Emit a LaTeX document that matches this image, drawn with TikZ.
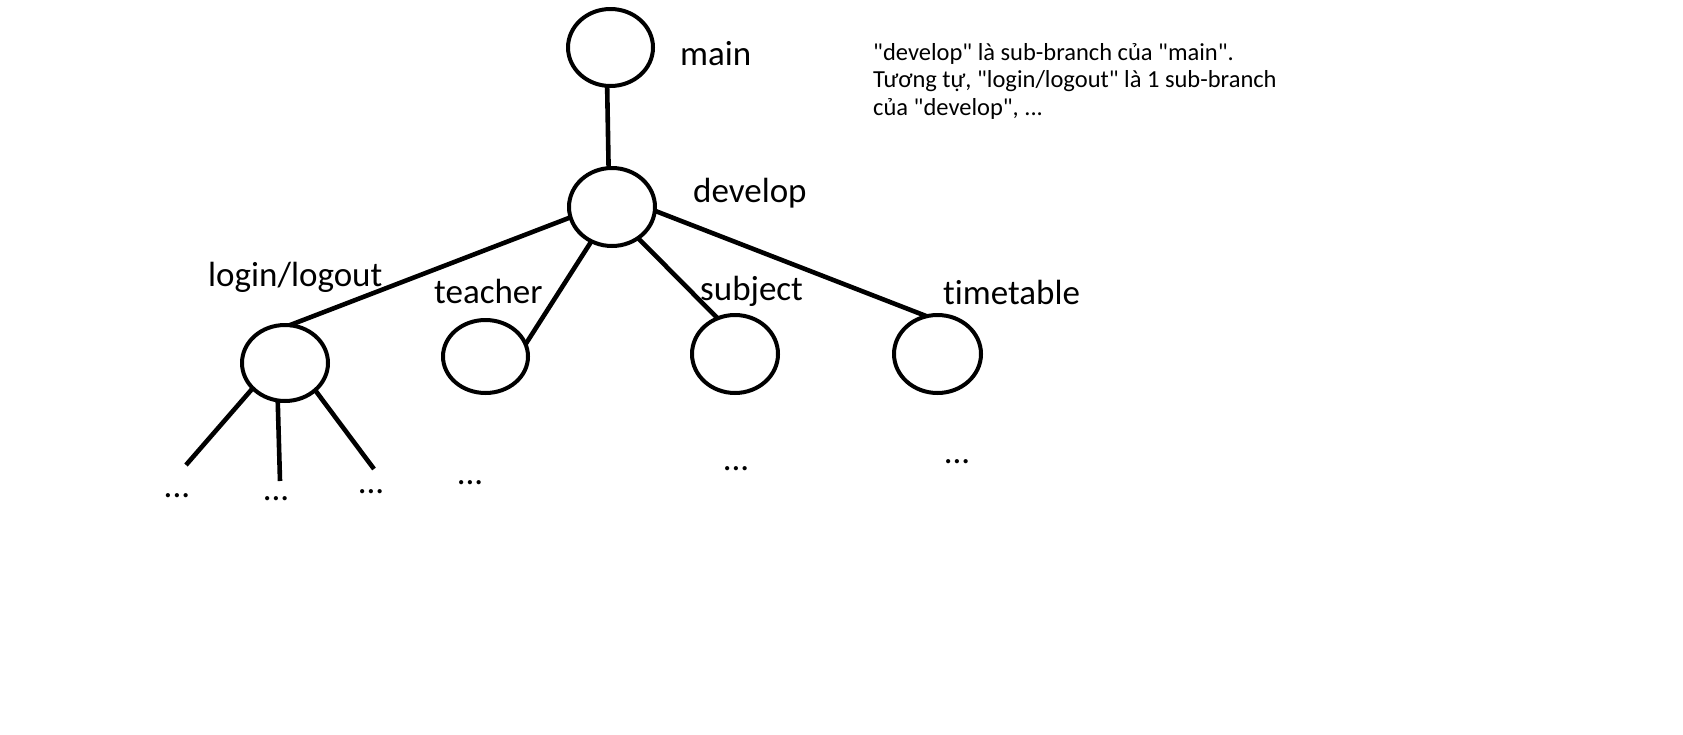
\documentclass[tikz,border=0pt]{standalone}
\usepackage{fontspec}
\newfontfamily\calfont{Carlito}[Ligatures=NoCommon]
\usetikzlibrary{shapes.geometric}
\begin{document}
\begin{tikzpicture}[x=1pt,y=-1pt,
  bub/.style={draw, ellipse, line width=4pt, inner sep=0pt, outer sep=0pt},
  link/.style={line width=4.6pt},
  lbl/.style={anchor=base west, inner sep=0pt, font=\calfont\fontsize{35}{42}\selectfont},
  more/.style={anchor=base, inner sep=0pt, font=\calfont\fontsize{35}{42}\selectfont},
  note/.style={anchor=base west, inner sep=0pt, font=\calfont\fontsize{24.5}{27.5}\selectfont}]
\useasboundingbox[fill=white] (0,0) rectangle (1683,734);
% nodes
\node[bub, minimum width=85, minimum height=77] (main) at (610.5,47.5) {};
\node[bub, minimum width=86, minimum height=78] (develop) at (612,207) {};
\node[bub, minimum width=86, minimum height=76] (login) at (285,363) {};
\node[bub, minimum width=85, minimum height=73] (teacher) at (485.5,356.5) {};
\node[bub, minimum width=86, minimum height=78] (subject) at (735,354) {};
\node[bub, minimum width=87, minimum height=78] (timetable) at (937.5,354) {};
% labels
\node[lbl] (lmain) at (680,65) {main};
\node[lbl] (ldevelop) at (693,202) {develop};
\node[lbl] (llogin) at (208,286) {login/logout};
\node[lbl] (lteacher) at (434,303) {teacher};
\node[lbl] (lsubject) at (700,300) {subject};
\node[lbl] (ltimetable) at (943,304) {timetable};
% leaves
\node[more] (d1) at (177,497) {...};
\node[more] (d2) at (276,500) {...};
\node[more] (d3) at (371,493) {...};
\node[more] (d4) at (470,484) {...};
\node[more] (d5) at (736,470) {...};
\node[more] (d6) at (957,463) {...};
\coordinate (e1) at (186,465);
\coordinate (e2) at (280,481);
\coordinate (e3) at (374,469);
% note
\node[note] (note) at (873,60) {\parbox[t]{600pt}{"develop" là sub-branch của "main".\\
Tương tự, "login/logout" là 1 sub-branch\\
của "develop", ...}};
% connectors
\draw[link] (main.265) -- (develop.95);
\draw[link] (develop.194) -- (login.83);
\draw[link] (develop.239) -- (teacher.17);
\draw[link] (develop.310) -- (subject.116);
\draw[link] (develop.355) -- (timetable.106);
\draw[link] (login.218) -- (e1);
\draw[link] (login.259) -- (e2);
\draw[link] (login.318) -- (e3);
\end{tikzpicture}
\end{document}
